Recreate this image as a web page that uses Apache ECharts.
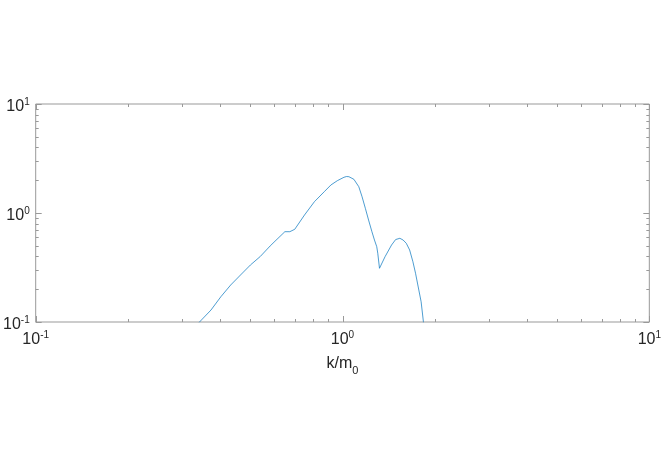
<!DOCTYPE html>
<html>
<head>
<meta charset="utf-8">
<script src="https://cdn.jsdelivr.net/npm/echarts@6/dist/echarts.min.js"></script>
<style>
html,body{margin:0;padding:0;background:#fff;}
#chart{width:664px;height:470px;}
</style>
</head>
<body>
<div id="chart"></div>
<script>
// Data (k/m0 vs value)
const kValues = [0.3236, 0.3419, 0.3727, 0.4014, 0.4321, 0.4652, 0.5010, 0.5395, 0.5808, 0.6026, 0.6489, 0.6735, 0.6988, 0.752, 0.8100, 0.872, 0.9166, 0.962, 1.011, 1.030, 1.049, 1.089, 1.130, 1.158, 1.187, 1.216, 1.247, 1.271, 1.293, 1.303, 1.320, 1.376, 1.445, 1.490, 1.538, 1.576, 1.614, 1.655, 1.696, 1.730, 1.760, 1.804, 1.835, 1.845];
const yValues = [0.0824, 0.1000, 0.1288, 0.1706, 0.2185, 0.2699, 0.3334, 0.3990, 0.4980, 0.5510, 0.6737, 0.6737, 0.7087, 0.959, 1.270, 1.568, 1.807, 1.979, 2.126, 2.160, 2.153, 2.038, 1.743, 1.411, 1.104, 0.862, 0.674, 0.5651, 0.491, 0.427, 0.3110, 0.3972, 0.5085, 0.5710, 0.5859, 0.5650, 0.5272, 0.458, 0.3575, 0.280, 0.2185, 0.1535, 0.1007, 0.0760];

// Tick values
const majorTicks = [0.1, 1, 10];
const minorTicks = [0.2, 0.3, 0.4, 0.5, 0.6, 0.7, 0.8, 0.9, 2, 3, 4, 5, 6, 7, 8, 9];

const axisGray = '#999999';
const textColor = '#262626';
const fontFam = '"Liberation Sans", Arial, Helvetica, sans-serif';

function expLabel(v) {
  const e = Math.round(Math.log10(v));
  return '{b|10}{s|' + e + '}';
}
const labelRich = {
  b: { fontSize: 16, color: textColor, fontFamily: fontFam, lineHeight: 18, verticalAlign: 'bottom' },
  s: { fontSize: 10, color: textColor, fontFamily: fontFam, lineHeight: 18, verticalAlign: 'top' }
};

// Tick data: [x, y, axisFlag(0=x,1=y), major(1/0)]
const tickData = [];
majorTicks.forEach(v => { tickData.push([v, 1, 0, 1]); tickData.push([1, v, 1, 1]); });
minorTicks.forEach(v => { tickData.push([v, 1, 0, 0]); tickData.push([1, v, 1, 0]); });

const chart = echarts.init(document.getElementById('chart'), null, { renderer: 'canvas' });
chart.setOption({
  animation: false,
  backgroundColor: '#ffffff',
  grid: { left: 32, right: 9, top: 104, bottom: 148, show: true, borderColor: axisGray, borderWidth: 1, backgroundColor: 'transparent' },
  xAxis: {
    type: 'log', logBase: 10, min: 0.1, max: 10,
    axisLine: { show: false }, axisTick: { show: false }, splitLine: { show: false }, minorTick: { show: false },
    axisLabel: { formatter: expLabel, rich: labelRich, margin: 8, fontFamily: fontFam },
    name: '{n|k/m}{sub|0}', nameLocation: 'middle', nameGap: 34,
    nameTextStyle: {
      rich: {
        n: { fontSize: 16, color: textColor, fontFamily: fontFam, lineHeight: 20, verticalAlign: 'top' },
        sub: { fontSize: 11, color: textColor, fontFamily: fontFam, lineHeight: 20, verticalAlign: 'bottom' }
      }
    }
  },
  yAxis: {
    type: 'log', logBase: 10, min: 0.1, max: 10,
    axisLine: { show: false }, axisTick: { show: false }, splitLine: { show: false }, minorTick: { show: false },
    axisLabel: { formatter: expLabel, rich: labelRich, margin: 6, fontFamily: fontFam, padding: [4, 0, 0, 0] }
  },
  series: [
    {
      type: 'line',
      data: kValues.map((k, i) => [k, yValues[i]]),
      showSymbol: false, symbol: 'none', clip: true, silent: true,
      lineStyle: { color: '#0072BD', width: 0.7 }
    },
    {
      type: 'custom', silent: true, clip: false,
      data: tickData,
      renderItem: function (params, api) {
        const cs = params.coordSys;
        const flag = api.value(2);
        const major = api.value(3) === 1;
        const len = major ? 6 : 3;
        const st = { stroke: axisGray, lineWidth: 1 };
        const children = [];
        if (flag === 0) {
          const px = Math.round(api.coord([api.value(0), 1])[0]) + 0.5;
          const yb = cs.y + cs.height, yt = cs.y;
          children.push({ type: 'line', shape: { x1: px, y1: yb, x2: px, y2: yb - len }, style: st });
          children.push({ type: 'line', shape: { x1: px, y1: yt, x2: px, y2: yt + len }, style: st });
        } else {
          const py = Math.round(api.coord([1, api.value(1)])[1]) + 0.5;
          const xl = cs.x, xr = cs.x + cs.width;
          children.push({ type: 'line', shape: { x1: xl, y1: py, x2: xl + len, y2: py }, style: st });
          children.push({ type: 'line', shape: { x1: xr, y1: py, x2: xr - len, y2: py }, style: st });
        }
        return { type: 'group', children: children };
      }
    }
  ]
});
</script>
</body>
</html>
